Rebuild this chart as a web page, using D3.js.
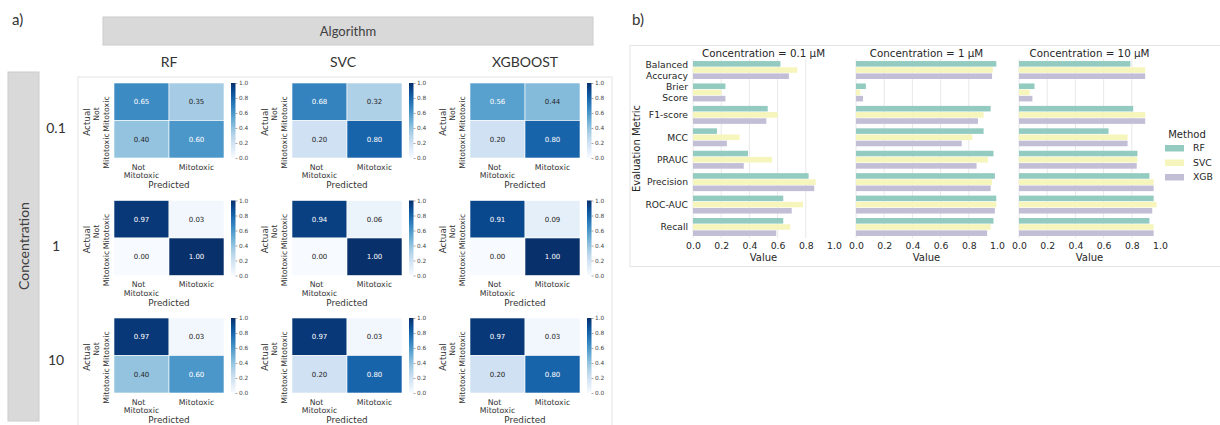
<!DOCTYPE html>
<html>
<head>
<meta charset="utf-8">
<script src="https://cdn.jsdelivr.net/npm/d3@7"></script>
<style>
body { margin: 0; background: #fff; }
svg { display: block; }
</style>
</head>
<body>
<div id="chart"></div>
<script>
// ---- panel a: confusion matrices ----
let algorithms = ['RF', 'SVC', 'XGBOOST'];
let concentrations = ['0.1', '1', '10'];
let classes = ['Not Mitotoxic', 'Mitotoxic'];
let cbTicks = [0, 0.2, 0.4, 0.6, 0.8, 1.0];

// one matrix per algorithm, rows = actual, cols = predicted
let cm01 = [[[0.65, 0.35], [0.40, 0.60]], [[0.68, 0.32], [0.20, 0.80]], [[0.56, 0.44], [0.20, 0.80]]];
let cm1 = [[[0.97, 0.03], [0.00, 1.00]], [[0.94, 0.06], [0.00, 1.00]], [[0.91, 0.09], [0.00, 1.00]]];
let cm10 = [[[0.97, 0.03], [0.40, 0.60]], [[0.97, 0.03], [0.20, 0.80]], [[0.97, 0.03], [0.20, 0.80]]];
let matrices = [cm01, cm1, cm10];

// ---- panel b: evaluation metrics ----
let metrics = ['Balanced Accuracy', 'Brier Score', 'F1-score', 'MCC', 'PRAUC', 'Precision', 'ROC-AUC', 'Recall'];
let methods = ['RF', 'SVC', 'XGB'];
let panelTitles = ['Concentration = 0.1 µM', 'Concentration = 1 µM', 'Concentration = 10 µM'];
let xTicks = [0, 0.2, 0.4, 0.6, 0.8, 1.0];

let rf01 = [0.62, 0.23, 0.53, 0.17, 0.39, 0.82, 0.64, 0.64];
let svc01 = [0.74, 0.20, 0.60, 0.33, 0.56, 0.87, 0.78, 0.69];
let xgb01 = [0.68, 0.23, 0.52, 0.24, 0.36, 0.86, 0.70, 0.59];

let rf1 = [0.995, 0.07, 0.955, 0.905, 0.975, 0.985, 0.995, 0.975];
let svc1 = [0.97, 0.03, 0.905, 0.825, 0.935, 0.965, 0.995, 0.955];
let xgb1 = [0.965, 0.05, 0.865, 0.75, 0.855, 0.955, 0.985, 0.93];

let rf10 = [0.79, 0.11, 0.81, 0.635, 0.84, 0.925, 0.955, 0.925];
let svc10 = [0.895, 0.075, 0.895, 0.77, 0.84, 0.955, 0.975, 0.955];
let xgb10 = [0.895, 0.095, 0.895, 0.77, 0.835, 0.955, 0.945, 0.955];

let scores = [[rf01, svc01, xgb01], [rf1, svc1, xgb1], [rf10, svc10, xgb10]];
let methodColors = ['#93cbc0', '#f5f5bc', '#c1bed6'];

let textDark = '#262626';
let calibri = 'Lato, "Open Sans", sans-serif';
let dejavu = '"DejaVu Sans", sans-serif';

let svg = d3.select('#chart')
    .append('svg')
    .attr('width', 1220)
    .attr('height', 425);

// =========== panel a ===========
svg.append('text').attr('x', 12).attr('y', 25)
    .style('font-family', calibri).style('font-size', '15px').attr('fill', '#333')
    .text('a)');

svg.append('rect').attr('x', 103).attr('y', 17).attr('width', 490).attr('height', 28)
    .attr('fill', '#d9d9d9').attr('stroke', '#cccccc');
svg.append('text').attr('x', 348).attr('y', 31.5).attr('dy', '0.35em')
    .attr('text-anchor', 'middle')
    .style('font-family', calibri).style('font-size', '13px').attr('fill', '#404040')
    .text('Algorithm');

svg.append('rect').attr('x', 8).attr('y', 72).attr('width', 31).attr('height', 349)
    .attr('fill', '#d9d9d9').attr('stroke', '#cccccc');
svg.append('text')
    .attr('transform', 'translate(24,246) rotate(-90)')
    .attr('dy', '0.35em').attr('text-anchor', 'middle')
    .style('font-family', calibri).style('font-size', '14px').attr('fill', '#404040')
    .text('Concentration');

svg.append('rect').attr('x', 78).attr('y', 77).attr('width', 534).attr('height', 360)
    .attr('fill', 'none').attr('stroke', '#e4e4e4');

let hmW = 110, hmH = 75;
let colLeft = d3.scaleOrdinal().domain(algorithms).range([114, 292, 470]);
let rowTop = d3.scaleOrdinal().domain(concentrations).range([83, 200.5, 318]);
let rowLabelY = [128, 246, 360];

svg.selectAll('.algo')
    .data(algorithms)
    .enter()
    .append('text')
    .attr('class', 'algo')
    .attr('x', function (d) { return colLeft(d) + hmW / 2 + (d == 'SVC' ? -4 : 0); })
    .attr('y', 62).attr('dy', '0.35em')
    .attr('text-anchor', 'middle')
    .style('font-family', calibri).style('font-size', '14px').attr('fill', '#333')
    .text(function (d) { return d; });

svg.selectAll('.conc')
    .data(concentrations)
    .enter()
    .append('text')
    .attr('class', 'conc')
    .attr('x', 56)
    .attr('y', function (d, i) { return rowLabelY[i]; }).attr('dy', '0.35em')
    .attr('text-anchor', 'middle')
    .style('font-family', calibri).style('font-size', '14px').attr('fill', '#333')
    .text(function (d) { return d; });

let color = d3.scaleSequential(d3.interpolateBlues).domain([0, 1]);

let defs = svg.append('defs');
let grad = defs.append('linearGradient').attr('id', 'blues')
    .attr('x1', 0).attr('y1', 1).attr('x2', 0).attr('y2', 0);
d3.range(0, 1.0001, 0.1).forEach(function (t) {
    grad.append('stop').attr('offset', t).attr('stop-color', color(t));
});

function luminance(c) {
    let rgb = d3.rgb(c);
    let f = function (v) {
        v = v / 255;
        return v <= 0.03928 ? v / 12.92 : Math.pow((v + 0.055) / 1.055, 2.4);
    };
    return 0.2126 * f(rgb.r) + 0.7152 * f(rgb.g) + 0.0722 * f(rgb.b);
}

let xCell = d3.scaleBand().domain(classes).range([0, hmW]);
let yCell = d3.scaleBand().domain(classes).range([0, hmH]);
let cbScale = d3.scaleLinear().domain([0, 1]).range([hmH, 0]);

concentrations.forEach(function (conc, ci) {
    algorithms.forEach(function (alg, ai) {
        let m = matrices[ci][ai];
        let cells = [];
        for (let r = 0; r < 2; r++) {
            for (let c = 0; c < 2; c++) {
                cells.push({ actual: classes[r], pred: classes[c], value: m[r][c] });
            }
        }
        let g = svg.append('g')
            .attr('transform', 'translate(' + colLeft(alg) + ',' + rowTop(conc) + ')');

        g.selectAll('rect.cell')
            .data(cells)
            .enter()
            .append('rect')
            .attr('class', 'cell')
            .attr('x', function (d) { return xCell(d.pred); })
            .attr('y', function (d) { return yCell(d.actual); })
            .attr('width', xCell.bandwidth())
            .attr('height', yCell.bandwidth())
            .attr('fill', function (d) { return color(d.value); })
            .attr('stroke', '#ffffff').attr('stroke-width', 0.6);

        g.selectAll('text.annot')
            .data(cells)
            .enter()
            .append('text')
            .attr('class', 'annot')
            .attr('x', function (d) { return xCell(d.pred) + xCell.bandwidth() / 2; })
            .attr('y', function (d) { return yCell(d.actual) + yCell.bandwidth() / 2; })
            .attr('dy', '0.35em')
            .attr('text-anchor', 'middle')
            .style('font-family', dejavu).style('font-size', '7px')
            .attr('fill', function (d) { return luminance(color(d.value)) > 0.408 ? textDark : '#ffffff'; })
            .text(function (d) { return d.value.toFixed(2); });

        // y tick labels (rotated)
        let yl = g.append('text')
            .attr('transform', 'translate(-13,31) rotate(-90)')
            .attr('text-anchor', 'middle')
            .style('font-family', dejavu).style('font-size', '7.8px').attr('fill', '#333');
        yl.append('tspan').attr('x', 0).attr('y', -5).attr('dy', '0.35em').text('Not');
        yl.append('tspan').attr('x', 0).attr('y', 5).attr('dy', '0.35em').text('Mitotoxic');

        g.append('text')
            .attr('transform', 'translate(-8,68) rotate(-90)')
            .attr('dy', '0.35em').attr('text-anchor', 'middle')
            .style('font-family', dejavu).style('font-size', '7.8px').attr('fill', '#333')
            .text('Mitotoxic');

        g.append('text')
            .attr('transform', 'translate(-27,39) rotate(-90)')
            .attr('dy', '0.35em').attr('text-anchor', 'middle')
            .style('font-family', dejavu).style('font-size', '8.8px').attr('fill', '#333')
            .text('Actual');

        // x tick labels
        let c0 = xCell(classes[0]) + xCell.bandwidth() / 2;
        let c1 = xCell(classes[1]) + xCell.bandwidth() / 2;
        let xl = g.append('text')
            .attr('text-anchor', 'middle')
            .style('font-family', dejavu).style('font-size', '7.8px').attr('fill', '#333');
        xl.append('tspan').attr('x', c0 - 3).attr('y', hmH + 9).attr('dy', '0.35em').text('Not');
        xl.append('tspan').attr('x', c0).attr('y', hmH + 17.5).attr('dy', '0.35em').text('Mitotoxic');
        g.append('text')
            .attr('x', c1).attr('y', hmH + 9).attr('dy', '0.35em')
            .attr('text-anchor', 'middle')
            .style('font-family', dejavu).style('font-size', '7.8px').attr('fill', '#333')
            .text('Mitotoxic');
        g.append('text')
            .attr('x', hmW / 2).attr('y', hmH + 27).attr('dy', '0.35em')
            .attr('text-anchor', 'middle')
            .style('font-family', dejavu).style('font-size', '8.8px').attr('fill', '#333')
            .text('Predicted');

        // colorbar
        let cb = g.append('g').attr('transform', 'translate(' + (hmW + 7) + ',0)');
        cb.append('rect').attr('width', 4.5).attr('height', hmH).attr('fill', 'url(#blues)');
        let cbAxis = cb.append('g')
            .attr('transform', 'translate(4.5,0)')
            .call(d3.axisRight(cbScale).tickValues(cbTicks).tickSize(2).tickFormat(d3.format('.1f')));
        cbAxis.select('.domain').remove();
        cbAxis.selectAll('line').attr('stroke', '#555').attr('stroke-width', 0.5);
        cbAxis.selectAll('text')
            .attr('x', 3.5)
            .style('font-family', dejavu).style('font-size', '5.8px').attr('fill', '#444');
    });
});

// =========== panel b ===========
svg.append('text').attr('x', 632).attr('y', 25)
    .style('font-family', calibri).style('font-size', '15px').attr('fill', '#333')
    .text('b)');

svg.append('rect').attr('x', 630).attr('y', 45.5).attr('width', 600).attr('height', 221)
    .attr('fill', 'none').attr('stroke', '#e4e4e4');

let plotTop = 58.8, plotBottom = 238.2, panelW = 141;
let panelLeft = d3.scaleOrdinal().domain(panelTitles).range([693, 856, 1019]);
let y = d3.scaleBand().domain(metrics).range([plotTop, plotBottom]).paddingInner(0.2).paddingOuter(0.1);
let yInner = d3.scaleBand().domain(methods).range([0, y.bandwidth()]).paddingInner(0.1);
let x = d3.scaleLinear().domain([0, 1]).range([0, panelW]);

panelTitles.forEach(function (title, pi) {
    let g = svg.append('g').attr('transform', 'translate(' + panelLeft(title) + ',0)');

    g.selectAll('line.grid')
        .data(xTicks.slice(0, 5))
        .enter()
        .append('line')
        .attr('class', 'grid')
        .attr('x1', function (d) { return x(d); })
        .attr('x2', function (d) { return x(d); })
        .attr('y1', plotTop).attr('y2', plotBottom)
        .attr('stroke', '#e8e8e8').attr('stroke-width', 1);

    methods.forEach(function (meth, mi) {
        let vals = scores[pi][mi];
        g.selectAll('rect.m' + mi)
            .data(vals)
            .enter()
            .append('rect')
            .attr('class', 'm' + mi)
            .attr('x', x(0))
            .attr('y', function (d, i) { return y(metrics[i]) + yInner(meth); })
            .attr('width', function (d) { return x(d) - x(0); })
            .attr('height', yInner.bandwidth())
            .attr('fill', methodColors[mi]);
    });

    let xa = g.append('g')
        .attr('transform', 'translate(0,' + (plotBottom + 1) + ')')
        .call(d3.axisBottom(x).tickValues(xTicks).tickSize(0).tickPadding(3).tickFormat(d3.format('.1f')));
    xa.select('.domain').remove();
    xa.selectAll('text')
        .style('font-family', dejavu).style('font-size', '9.3px').attr('fill', textDark);

    g.append('text')
        .attr('x', panelW / 2).attr('y', 257).attr('dy', '0.35em')
        .attr('text-anchor', 'middle')
        .style('font-family', dejavu).style('font-size', '10px').attr('fill', textDark)
        .text('Value');

    g.append('text')
        .attr('x', panelW / 2).attr('y', 53).attr('dy', '0.35em')
        .attr('text-anchor', 'middle')
        .style('font-family', dejavu).style('font-size', '10.3px').attr('fill', textDark)
        .text(title);
});

// y tick labels on first panel
let ylab = svg.append('g');
metrics.forEach(function (m) {
    let words = m.split(' ');
    let cy = y(m) + y.bandwidth() / 2;
    let t = ylab.append('text')
        .attr('text-anchor', 'end')
        .style('font-family', dejavu).style('font-size', '9.2px').attr('fill', textDark);
    words.forEach(function (w, wi) {
        t.append('tspan')
            .attr('x', 688)
            .attr('y', cy + (wi - (words.length - 1) / 2) * 11)
            .attr('dy', '0.35em')
            .text(w);
    });
});

svg.append('text')
    .attr('transform', 'translate(636,' + ((plotTop + plotBottom) / 2) + ') rotate(-90)')
    .attr('dy', '0.35em').attr('text-anchor', 'middle')
    .style('font-family', dejavu).style('font-size', '10px').attr('fill', textDark)
    .text('Evaluation Metric');

// legend
let legend = svg.append('g').attr('transform', 'translate(1165,0)');
legend.append('text')
    .attr('x', 22).attr('y', 134).attr('dy', '0.35em')
    .attr('text-anchor', 'middle')
    .style('font-family', dejavu).style('font-size', '10px').attr('fill', textDark)
    .text('Method');
legend.selectAll('rect')
    .data(methods)
    .enter()
    .append('rect')
    .attr('x', 0)
    .attr('y', function (d, i) { return 145 + i * 14.5; })
    .attr('width', 19).attr('height', 6.5)
    .attr('fill', function (d, i) { return methodColors[i]; });
legend.selectAll('text.lg')
    .data(methods)
    .enter()
    .append('text')
    .attr('class', 'lg')
    .attr('x', 28)
    .attr('y', function (d, i) { return 148 + i * 14.5; })
    .attr('dy', '0.35em')
    .style('font-family', dejavu).style('font-size', '9.3px').attr('fill', textDark)
    .text(function (d) { return d; });
</script>
</body>
</html>
